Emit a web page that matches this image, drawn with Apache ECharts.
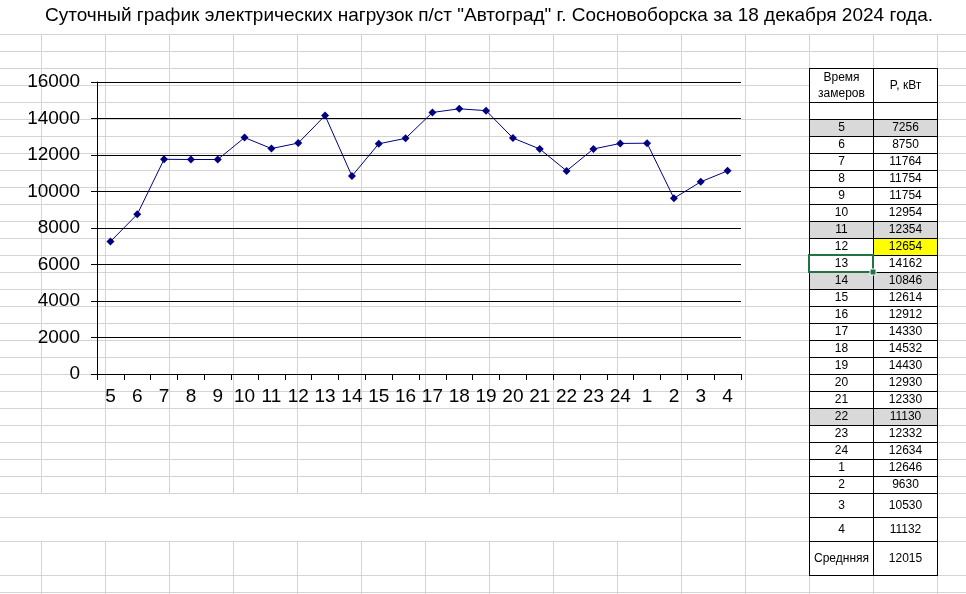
<!DOCTYPE html>
<html><head><meta charset="utf-8">
<script src="https://cdn.jsdelivr.net/npm/echarts@6/dist/echarts.min.js"></script>
<style>html,body{margin:0;padding:0;background:#fff}#c{width:966px;height:594px}</style>
</head><body><div id="c"></div>
<script>
var titleText = 'Суточный график электрических нагрузок п/ст "Автоград" г. Сосновоборска за 18 декабря 2024 года.';
var hours = ['5','6','7','8','9','10','11','12','13','14','15','16','17','18','19','20','21','22','23','24','1','2','3','4'];
var loadKW = [7256,8750,11764,11754,11754,12954,12354,12654,14162,10846,12614,12912,14330,14532,14430,12930,12330,11130,12332,12634,12646,9630,10530,11132];
var averageKW = 12015;
var averageLabel = 'Среднняя';
var headTime = ['Время','замеров'];
var headP = 'P, кВт';
var grayRows = ['5','11','14','22'];
var yellowRow = '12';
var selectedRow = '13';

var FONT = '"Liberation Sans", Arial, sans-serif';
var els = [];
var GRID = '#d4d4d4';
// spreadsheet grid
var colX = []; for (var k = 0; k < 15; k++) colX.push(41 + 64 * k);
var rowY = []; for (var r = 34; r <= 493; r += 17) rowY.push(r);
rowY.push(517, 541, 575, 592);
rowY.forEach(function (y) {
  els.push({type:'line', z:-5, silent:true, shape:{x1:0,y1:y+0.5,x2:966,y2:y+0.5}, style:{stroke:GRID,lineWidth:1}});
});
colX.forEach(function (x) {
  els.push({type:'line', z:-5, silent:true, shape:{x1:x+0.5,y1:34,x2:x+0.5,y2:493}, style:{stroke:GRID,lineWidth:1}});
  if (x >= 681) els.push({type:'line', z:-5, silent:true, shape:{x1:x+0.5,y1:493,x2:x+0.5,y2:541}, style:{stroke:GRID,lineWidth:1}});
  els.push({type:'line', z:-5, silent:true, shape:{x1:x+0.5,y1:541,x2:x+0.5,y2:594}, style:{stroke:GRID,lineWidth:1}});
});
// title
els.push({type:'text', z:20, x:489, y:16, style:{text:titleText, font:'19px ' + FONT, fill:'#000', align:'center', verticalAlign:'middle'}});

// table
var tx0 = 809, tx1 = 873, tx2 = 937;
var rows = [];
rows.push({y0:68, y1:102, head:true});
rows.push({y0:102, y1:119, a:'', b:''});
var yy = 119;
for (var i = 0; i < hours.length; i++) {
  var h = (i >= 22) ? 24 : 17;
  rows.push({y0:yy, y1:yy + h, a:hours[i], b:String(loadKW[i])});
  yy += h;
}
rows.push({y0:yy, y1:yy + 34, a:averageLabel, b:String(averageKW)});
rows.forEach(function (rw) {
  var fillA = '#fff', fillB = '#fff';
  if (grayRows.indexOf(rw.a) >= 0) { fillA = fillB = '#d9d9d9'; }
  if (rw.a === yellowRow) fillB = '#ffff00';
  els.push({type:'rect', z:10, shape:{x:tx0, y:rw.y0, width:64, height:rw.y1-rw.y0}, style:{fill:fillA}});
  els.push({type:'rect', z:10, shape:{x:tx1, y:rw.y0, width:64, height:rw.y1-rw.y0}, style:{fill:fillB}});
  var cy = (rw.y0 + rw.y1) / 2 + 0.5;
  if (rw.head) {
    els.push({type:'text', z:12, x:(tx0+tx1)/2+0.5, y:cy, style:{text:headTime.join('\n'), lineHeight:16, font:'12px ' + FONT, fill:'#000', align:'center', verticalAlign:'middle'}});
    els.push({type:'text', z:12, x:(tx1+tx2)/2+0.5, y:cy, style:{text:headP, font:'12px ' + FONT, fill:'#000', align:'center', verticalAlign:'middle'}});
  } else {
    els.push({type:'text', z:12, x:(tx0+tx1)/2+0.5, y:cy, style:{text:rw.a, font:'12px ' + FONT, fill:'#000', align:'center', verticalAlign:'middle'}});
    els.push({type:'text', z:12, x:(tx1+tx2)/2+0.5, y:cy, style:{text:rw.b, font:'12px ' + FONT, fill:'#000', align:'center', verticalAlign:'middle'}});
  }
});
// table borders
var bottom = rows[rows.length-1].y1;
rows.forEach(function (rw) {
  els.push({type:'line', z:14, shape:{x1:tx0, y1:rw.y0+0.5, x2:tx2+1, y2:rw.y0+0.5}, style:{stroke:'#000', lineWidth:1}});
});
els.push({type:'line', z:14, shape:{x1:tx0, y1:bottom+0.5, x2:tx2+1, y2:bottom+0.5}, style:{stroke:'#000', lineWidth:1}});
[tx0, tx1, tx2].forEach(function (x) {
  els.push({type:'line', z:14, shape:{x1:x+0.5, y1:68, x2:x+0.5, y2:bottom+1}, style:{stroke:'#000', lineWidth:1}});
});
// selection box
rows.forEach(function (rw) {
  if (rw.a === selectedRow) {
    els.push({type:'rect', z:16, shape:{x:tx0, y:rw.y0, width:64, height:rw.y1-rw.y0}, style:{fill:'none', stroke:'#217346', lineWidth:2}});
    els.push({type:'rect', z:17, shape:{x:tx1-3, y:rw.y1-3, width:6, height:6}, style:{fill:'#217346', stroke:'#fff', lineWidth:1}});
  }
});

var chart = echarts.init(document.getElementById('c'), null, {renderer:'canvas'});
chart.setOption({
  animation:false,
  backgroundColor:'transparent',
  graphic:{elements:els},
  grid:{left:97, right:225, top:82, bottom:220, containLabel:false},
  xAxis:{type:'category', data:hours, boundaryGap:true,
    axisLine:{show:true, lineStyle:{color:'#000', width:1}},
    axisTick:{show:true, inside:false, length:6, interval:0, lineStyle:{color:'#000'}},
    axisLabel:{interval:0, margin:13, color:'#000', fontSize:19, fontFamily:FONT},
    splitLine:{show:false}},
  yAxis:{type:'value', min:0, max:16000, interval:2000,
    axisLine:{show:true, lineStyle:{color:'#000', width:1}},
    axisTick:{show:true, inside:false, length:6, lineStyle:{color:'#000'}},
    axisLabel:{margin:17, color:'#000', fontSize:19, fontFamily:FONT, formatter:function (v) { return String(v); }},
    splitLine:{show:true, lineStyle:{color:'#000', width:1}}},
  series:[{type:'line', data:loadKW, symbol:'diamond', symbolSize:8, showSymbol:true,
    lineStyle:{color:'#000080', width:1}, itemStyle:{color:'#000080'}, z:5}]
});
</script></body></html>
